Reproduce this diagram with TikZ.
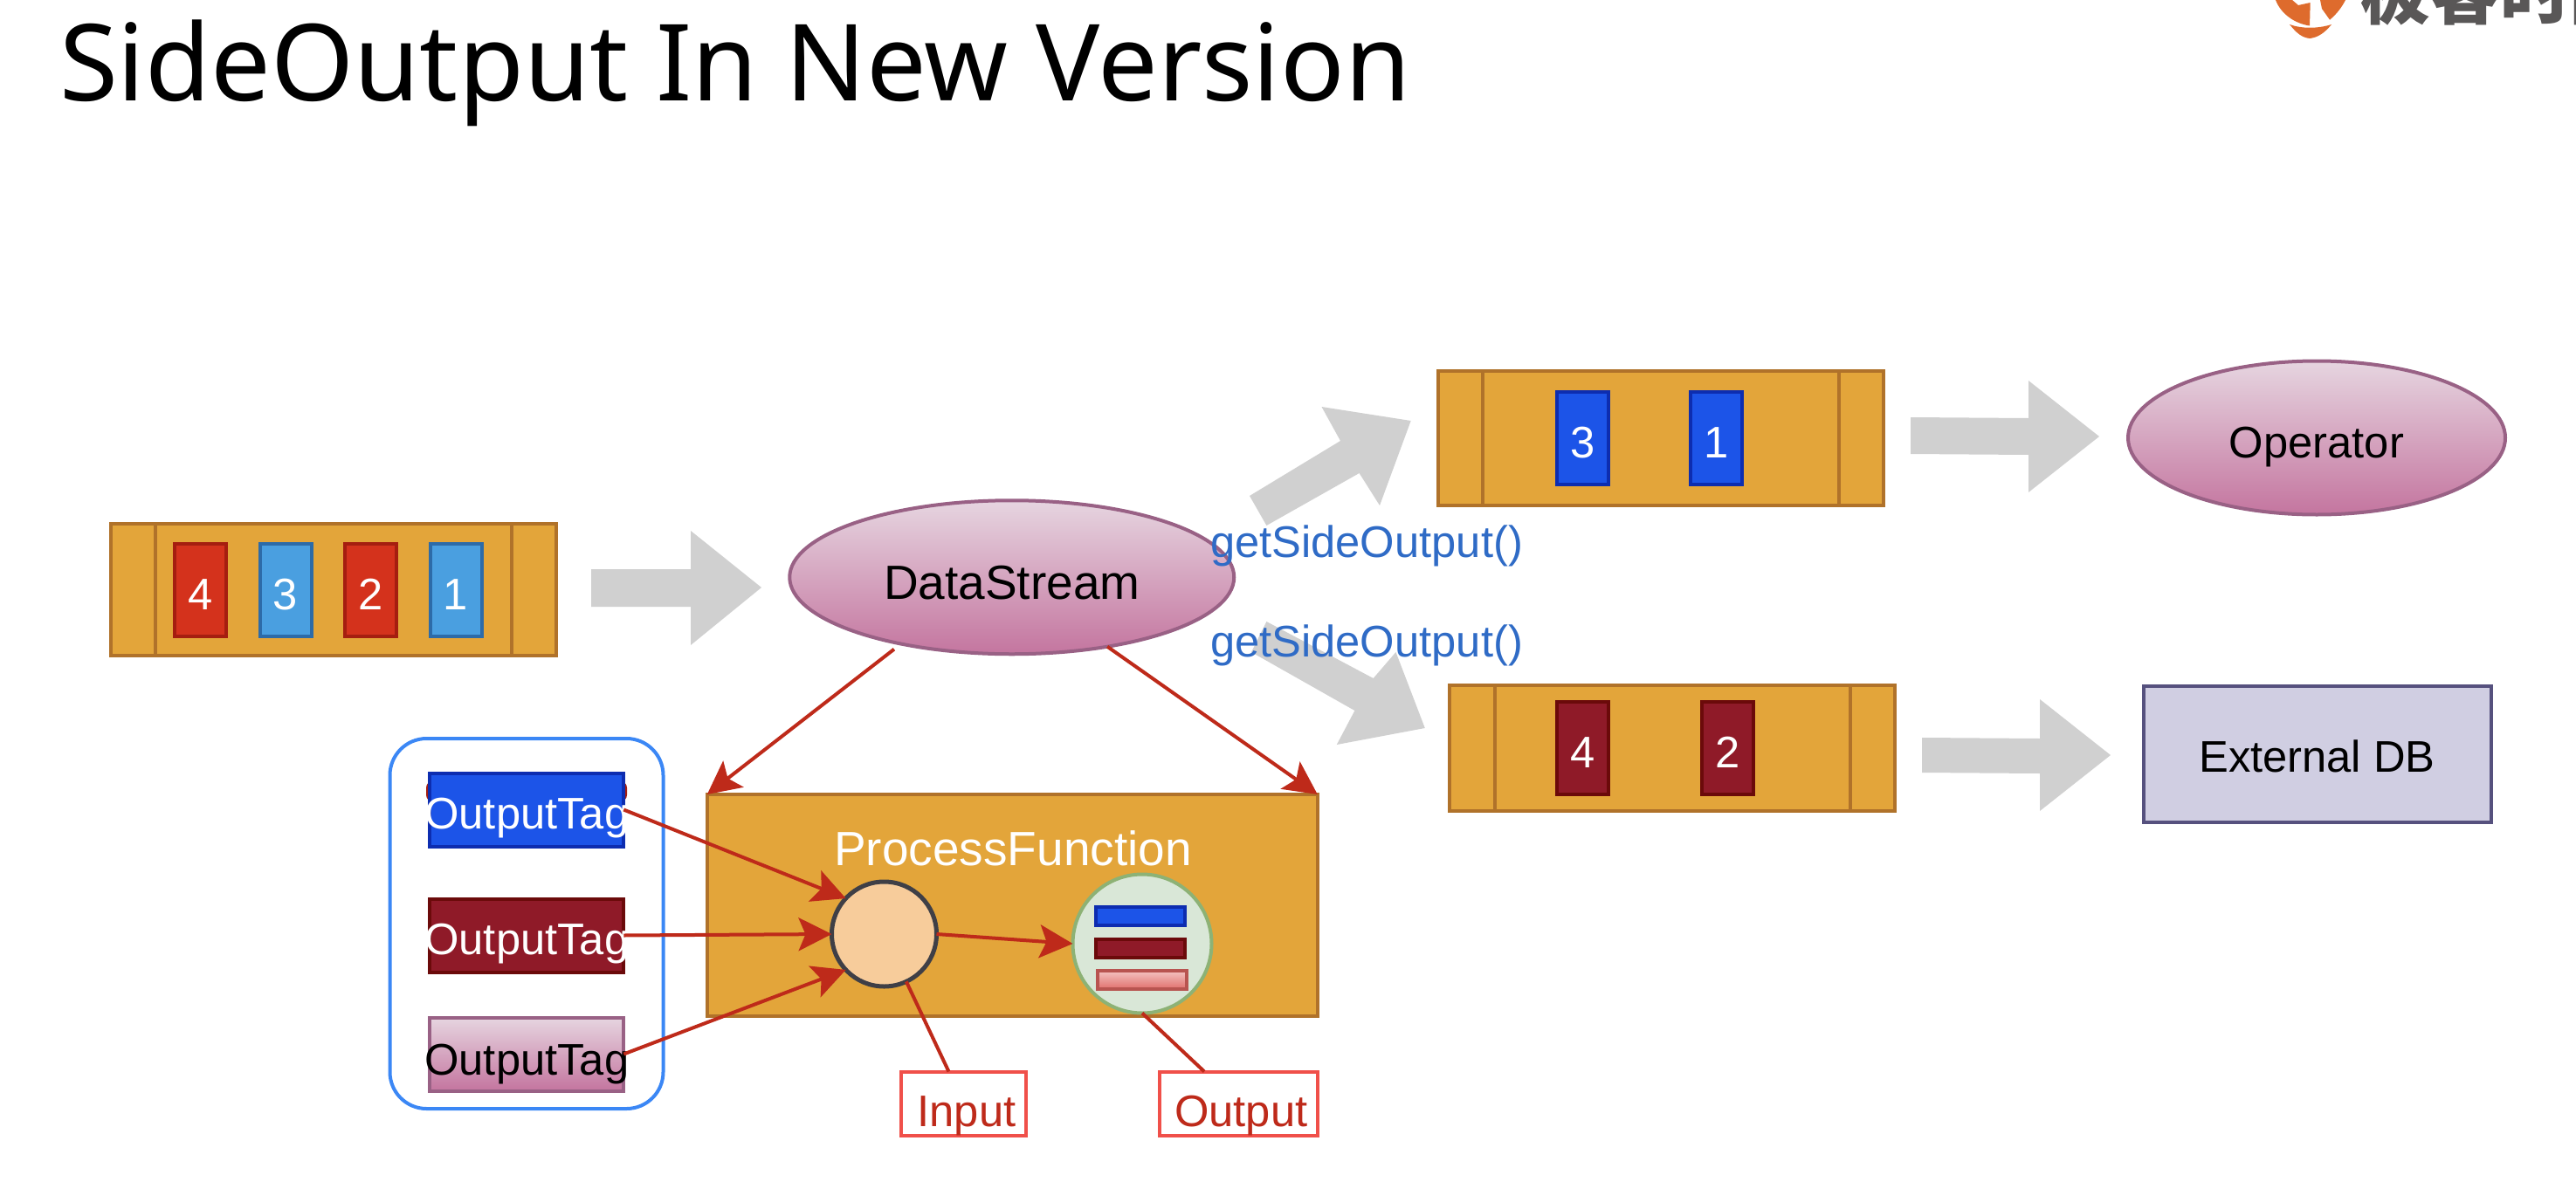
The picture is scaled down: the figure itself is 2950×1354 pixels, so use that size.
\documentclass[tikz,border=0pt]{standalone}
\usepackage{fontspec}
\setmainfont{Liberation Sans}
\newfontfamily\titlefont{Noto Sans}
\newfontfamily\cjkfont{Noto Sans CJK SC}
\usetikzlibrary{shapes.geometric,arrows.meta}
\definecolor{barfill}{HTML}{E3A53A}
\definecolor{barline}{HTML}{B0722A}
\definecolor{arrowgrey}{HTML}{D0D0D0}
\definecolor{redline}{HTML}{BE2A1A}
\definecolor{cellred}{HTML}{D4321C}
\definecolor{cellredl}{HTML}{A51E10}
\definecolor{cellsky}{HTML}{4A9FE0}
\definecolor{cellskyl}{HTML}{2D6BA8}
\definecolor{cellblue}{HTML}{1C54E8}
\definecolor{cellbluel}{HTML}{0D2DB0}
\definecolor{cellwine}{HTML}{8F1A28}
\definecolor{cellwinel}{HTML}{6B0A0A}
\definecolor{pinktop}{HTML}{E6D5E0}
\definecolor{pinkbot}{HTML}{C4759F}
\definecolor{pinkline}{HTML}{996185}
\definecolor{labelblue}{HTML}{2F6BC6}
\definecolor{logoorange}{HTML}{DE6B2D}
\definecolor{logogrey}{HTML}{595757}
\definecolor{dbfill}{HTML}{D0CEE2}
\definecolor{dbline}{HTML}{56517E}
\definecolor{groupline}{HTML}{3B87F5}
\definecolor{innerfill}{HTML}{F7CC9B}
\definecolor{innerline}{HTML}{3F3F46}
\definecolor{outerfill}{HTML}{D9E7D7}
\definecolor{outerline}{HTML}{8DB275}
\definecolor{noteline}{HTML}{F0504A}
\definecolor{minitop}{HTML}{F4C4C2}
\definecolor{minibot}{HTML}{E0706C}
\definecolor{miniline}{HTML}{B85450}
\tikzset{
  dbase/.style={inner sep=0pt,outer sep=0pt,line width=4pt},
  dtxt/.style={font=\fontsize{50.7}{50.7}\selectfont},
  dbar/.style={dbase,rectangle,draw=barline,fill=barfill},
  barrule/.style={draw=barline,line width=4pt},
  qcell/.style={dbase,rectangle,dtxt,text=white,minimum width=59,minimum height=106,text height=46,text depth=0},
  qred/.style={qcell,fill=cellred,draw=cellredl},
  qsky/.style={qcell,fill=cellsky,draw=cellskyl},
  qblue/.style={qcell,fill=cellblue,draw=cellbluel},
  qwine/.style={qcell,fill=cellwine,draw=cellwinel},
  pinkfill/.style={top color=pinktop,bottom color=pinkbot,draw=pinkline},
  qoval/.style={dbase,ellipse,pinkfill,dtxt},
  qtag/.style={dbase,rectangle,dtxt,minimum width=222,minimum height=84,text height=44,text depth=0},
  bigarrow/.style={fill=arrowgrey,draw=none},
  redarrow/.style={draw=redline,line width=4pt,-{Stealth[length=38pt,width=38pt,inset=8pt]}},
  redrule/.style={draw=redline,line width=4pt},
  qnote/.style={dbase,rectangle,draw=noteline,fill=white,dtxt,text=redline,minimum height=73,text height=52,text depth=0},
  qmini/.style={dbase,rectangle,minimum width=102,minimum height=21}
}
\begin{document}
\begin{tikzpicture}[x=1pt,y=-1pt]
\useasboundingbox (0,0) rectangle (2950,1354);
% title
\node[dbase,anchor=base west,font=\titlefont\fontsize{122}{122}\selectfont] (title) at (68,115) {SideOutput In New Version};
% logo, cut by the page edge
\begin{scope}
\clip (0,0) rectangle (2950,1354);
\fill[logoorange] (2606,0) .. controls (2612,16) and (2628,27) .. (2645,29.5) -- (2645.7,3) -- (2632,6) -- (2625,0) -- cycle;
\fill[logoorange] (2657,0) -- (2659,10) -- (2668,22.7) .. controls (2676,16) and (2682,8) .. (2686,0) -- cycle;
\fill[logoorange] (2622,28) .. controls (2636,33) and (2654,33) .. (2670,28) .. controls (2662,38) and (2654,43) .. (2645,44) .. controls (2636,43) and (2630,38) .. (2622,28) -- cycle;
\node[dbase,anchor=base west,text=logogrey,font=\cjkfont\bfseries\fontsize{80}{80}\selectfont] (logotext) at (2703,22) {极客时间};
\end{scope}
% grey arrows
\fill[bigarrow] (677,652) -- (791,652) -- (791,608) -- (872,673) -- (791,739) -- (791,695) -- (677,695) -- cycle;
\fill[bigarrow] (1431,568) -- (1535,505) -- (1513.5,466) -- (1615.7,482) -- (1580,579) -- (1556.6,542) -- (1450.4,602) -- cycle;
\fill[bigarrow] (1450.4,712) -- (1572.7,777) -- (1598.5,747) -- (1631.8,834) -- (1530.8,853) -- (1551.4,814) -- (1433,747) -- cycle;
\fill[bigarrow] (2188,478) -- (2323,479) -- (2323,436) -- (2404,500) -- (2323,564) -- (2323,521) -- (2188,520) -- cycle;
\fill[bigarrow] (2201,845) -- (2336,846) -- (2336,801) -- (2417,865) -- (2336,929) -- (2336,886) -- (2201,885) -- cycle;
% source bar
\node[dbar,minimum width=510,minimum height=151] (srcbar) at (382,675.5) {};
\draw[barrule] (178,600) -- (178,751);
\draw[barrule] (586,600) -- (586,751);
\node[qred] (c4) at (229.5,675.7) {4};
\node[qsky] (c3) at (327,675.7) {3};
\node[qred] (c2) at (424.5,675.7) {2};
\node[qsky] (c1) at (522,675.7) {1};
% upper bar
\node[dbar,minimum width=510,minimum height=154] (topbar) at (1902,501.5) {};
\draw[barrule] (1698,424) -- (1698,579);
\draw[barrule] (2106,424) -- (2106,579);
\node[qblue] (t3) at (1812.5,501.7) {3};
\node[qblue] (t1) at (1965.5,501.7) {1};
% lower bar
\node[dbar,minimum width=510,minimum height=144] (lowbar) at (1915,856.5) {};
\draw[barrule] (1711.6,784) -- (1711.6,929);
\draw[barrule] (2118.6,784) -- (2118.6,929);
\node[qwine] (b4) at (1812.5,856.7) {4};
\node[qwine] (b2) at (1978.5,856.7) {2};
% ovals and store
\node[qoval,minimum width=509,minimum height=176,font=\fontsize{55}{55}\selectfont,text height=50,text depth=0] (ds) at (1158.75,661.25) {DataStream};
\node[qoval,minimum width=432,minimum height=176,text height=46,text depth=0] (op) at (2653,501.5) {Operator};
\node[dbase,rectangle,dtxt,draw=dbline,fill=dbfill,minimum width=398,minimum height=156,text height=42,text depth=0] (db) at (2653.5,863.5) {External DB};
% tag group
\node[dbase,rectangle,rounded corners=42pt,draw=groupline,minimum width=313,minimum height=424] (group) at (603,1058) {};
\node[dbase,rectangle,rounded corners=8pt,fill=cellredl,minimum width=230,minimum height=24] (tagback) at (603,906.5) {};
\node[qtag,fill=cellblue,draw=cellbluel,text=white] (tag1) at (603.25,927.5) {\makebox[0pt][c]{OutputTag}};
\node[qtag,fill=cellwine,draw=cellwinel,text=white] (tag2) at (603.25,1071.5) {\makebox[0pt][c]{OutputTag}};
\node[qtag,pinkfill,text=black,text height=47] (tag3) at (603.25,1207.5) {\makebox[0pt][c]{OutputTag}};
% process function
\node[dbar,minimum width=699,minimum height=254] (pf) at (1159.3,1037) {};
\node[dbase,anchor=base,text=white,font=\fontsize{55}{55}\selectfont] (pflabel) at (1160,991) {ProcessFunction};
\node[dbase,circle,fill=innerfill,draw=innerline,line width=5pt,minimum size=120] (inner) at (1012.5,1070) {};
\node[dbase,circle,fill=outerfill,draw=outerline,minimum size=159] (outer) at (1308,1081) {};
\node[qmini,fill=cellblue,draw=cellbluel] (m1) at (1306,1049.7) {};
\node[qmini,fill=cellwine,draw=cellwinel] (m2) at (1306,1086.2) {};
\node[qmini,top color=minitop,bottom color=minibot,draw=miniline] (m3) at (1307.7,1122.3) {};
% notes
\node[qnote,minimum width=143] (input) at (1103.5,1264) {\hspace*{7pt}Input};
\node[qnote,minimum width=181] (output) at (1418.3,1264) {\hspace*{6pt}Output};
% labels
\node[dbase,anchor=base west,dtxt,text=labelblue] (gso1) at (1386,638) {getSideOutput()};
\node[dbase,anchor=base west,dtxt,text=labelblue] (gso2) at (1386,752.7) {getSideOutput()};
% connectors
\draw[redarrow,shorten <=10pt] (ds.211.5) -- (pf.north west);
\draw[redarrow] (ds.324.7) -- (pf.north east);
\draw[redarrow] (tag1.east) -- (inner.137);
\draw[redarrow] (tag2.east) -- (inner.west);
\draw[redarrow] (tag3.east) -- (inner.223);
\draw[redarrow] (inner.east) -- (outer.west);
\draw[redrule] (inner.-65) -- (input.115);
\draw[redrule] (outer.south) -- (output.137.8);
\end{tikzpicture}
\end{document}
